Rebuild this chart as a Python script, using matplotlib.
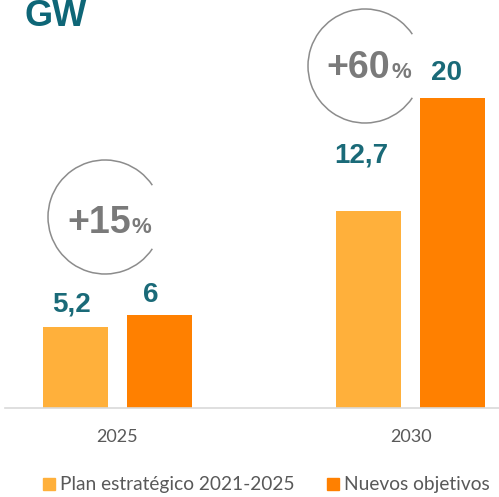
import matplotlib.pyplot as plt
import numpy as np
from matplotlib.patches import Arc, Rectangle

years = ["2025", "2030"]
plan = [5.2, 12.7]
nuevos = [6, 20]
plan_labels = ["5,2", "12,7"]
nuevos_labels = ["6", "20"]
growth = ["+15", "+60"]
legend_names = ["Plan estratégico 2021-2025", "Nuevos objetivos"]

light = "#FFB03B"
dark = "#FF8000"
teal = "#1A6A78"
grey = "#7A7A7A"

W, H = 499, 497
fig = plt.figure(figsize=(W / 100, H / 100), dpi=100)
ax = fig.add_axes([5 / W, 89 / H, 494 / W, 408 / H])

x = np.arange(len(years))
bw = 0.2215
off = 0.143
ax.bar(x - off, plan, bw, color=light)
ax.bar(x + off, nuevos, bw, color=dark)
ax.set_xlim(-0.383, 1.30)
ax.set_ylim(0, 408 / 15.5)

for s in ["top", "right", "left"]:
    ax.spines[s].set_visible(False)
ax.spines["bottom"].set_color("#D9D9D9")
ax.spines["bottom"].set_linewidth(1.2)
ax.set_yticks([])
ax.set_xticks(x)
ax.set_xticklabels(years, fontsize=13, color="#595959", family=["Lato", "DejaVu Sans"])
ax.tick_params(axis="x", length=0, pad=15)

# value labels (pixel offsets from bar tops)
plan_off = [(-4, 16), (-8, 49)]
nuevos_off = [(-9, 13), (-6, 18)]
for i in range(len(years)):
    ax.annotate(plan_labels[i], (x[i] - off, plan[i]), xytext=plan_off[i],
                textcoords="offset pixels", ha="center", va="baseline",
                fontsize=20, fontweight="bold", color=teal, family="Liberation Sans")
    ax.annotate(nuevos_labels[i], (x[i] + off, nuevos[i]), xytext=nuevos_off[i],
                textcoords="offset pixels", ha="center", va="baseline",
                fontsize=20, fontweight="bold", color=teal, family="Liberation Sans")

# growth circles (figure pixel positions)
circles = [(105, 217, 57), (365, 66, 57)]
text_pos = [(131, 233), (390, 78)]
for (cx, cy, r), (tx, ty), g in zip(circles, text_pos, growth):
    fig.patches.append(Arc((cx / W, 1 - cy / H), 2 * r / W, 2 * r / H,
                           theta1=34, theta2=326, color="#8C8C8C", lw=1.1,
                           transform=fig.transFigure))
    fig.text(tx / W, 1 - ty / H, g, ha="right", va="baseline", fontsize=27,
             fontweight="bold", color=grey, family="Liberation Sans")
    fig.text((tx + 1) / W, 1 - ty / H, "%", ha="left", va="baseline", fontsize=16,
             fontweight="bold", color=grey, family="Liberation Sans")

fig.text(25 / W, 1 - 26 / H, "GW", ha="left", va="baseline", fontsize=26,
         fontweight="bold", color="#0E6677", family="Liberation Sans")

# legend
leg_x = [43, 327]
for lx, name, c in zip(leg_x, legend_names, [light, dark]):
    fig.patches.append(Rectangle((lx / W, 1 - 490 / H), 12 / W, 12 / H,
                                 color=c, transform=fig.transFigure))
    fig.text((lx + 17) / W, 1 - 490 / H, name, ha="left", va="baseline",
             fontsize=13.8, color="#595959", family=["Lato", "DejaVu Sans"])

fig.savefig("out.png", dpi=100)
